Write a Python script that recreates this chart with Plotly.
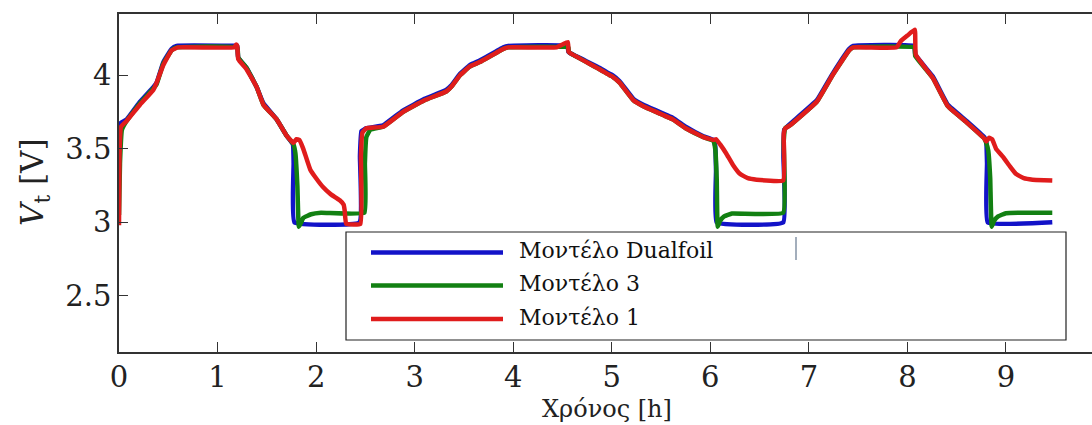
import plotly.graph_objects as go

# ---------------- data ----------------
series_names = ["Μοντέλο Dualfoil", "Μοντέλο 3", "Μοντέλο 1"]
series_colors = ["#1212c8", "#128012", "#e01c1c"]

t_dualfoil = [0.0, 0.005, 0.078, 0.213, 0.348, 0.382, 0.45, 0.534, 0.585, 1.19, 1.20, 1.21, 1.295,
              1.397, 1.465, 1.60, 1.70, 1.765, 1.772, 1.78, 2.44,
              2.445, 2.46, 2.51, 2.68, 2.88, 3.10, 3.32, 3.37, 3.46, 3.56, 3.66, 3.90, 3.95, 4.55,
              4.56, 4.58, 4.88, 4.98, 5.01, 5.08, 5.22, 5.32, 5.62, 5.75, 5.93, 6.03, 6.05, 6.058,
              6.065, 6.74,
              6.742, 6.75, 6.81, 7.08, 7.24, 7.41, 7.45, 8.07,
              8.08, 8.26, 8.41, 8.60, 8.78, 8.80, 8.808, 8.815, 9.47]
v_dualfoil = [3.64, 3.67, 3.70, 3.82, 3.92, 3.95, 4.09, 4.18, 4.20, 4.20, 4.20, 4.12, 4.05,
              3.92, 3.81, 3.70, 3.59, 3.53, 3.40, 3.00, 3.00,
              3.45, 3.62, 3.64, 3.66, 3.76, 3.84, 3.90, 3.93, 4.01, 4.07, 4.10, 4.19, 4.20, 4.20,
              4.16, 4.15, 4.05, 4.01, 4.00, 3.96, 3.84, 3.80, 3.71, 3.65, 3.585, 3.56, 3.52, 3.35,
              3.00, 3.00,
              3.45, 3.63, 3.67, 3.83, 4.01, 4.18, 4.20, 4.20,
              4.14, 3.99, 3.80, 3.69, 3.58, 3.55, 3.40, 3.00, 3.00]

t_model3 = [0.0, 0.01, 0.03, 0.078, 0.213, 0.348, 0.382, 0.45, 0.534, 0.585, 1.20, 1.21, 1.295,
            1.397, 1.465, 1.60, 1.70, 1.77, 1.79, 1.81, 1.825, 1.85, 1.87, 1.95, 2.05, 2.49,
            2.495, 2.51, 2.55, 2.68, 2.88, 3.10, 3.32, 3.37, 3.46, 3.56, 3.66, 3.90, 3.95, 4.56,
            4.565, 4.58, 4.88, 4.98, 5.01, 5.08, 5.22, 5.32, 5.62, 5.75, 5.93, 6.03, 6.05, 6.065,
            6.075, 6.10, 6.14, 6.22, 6.74,
            6.745, 6.76, 6.81, 7.08, 7.24, 7.41, 7.45, 8.07,
            8.08, 8.26, 8.41, 8.60, 8.78, 8.80, 8.82, 8.84, 8.855, 8.88, 8.92, 9.0, 9.47]
v_model3 = [3.05, 3.40, 3.63, 3.69, 3.81, 3.91, 3.94, 4.08, 4.17, 4.19, 4.19, 4.12, 4.05,
            3.92, 3.80, 3.70, 3.59, 3.53, 3.47, 3.25, 2.97, 3.00, 3.03, 3.055, 3.065, 3.065,
            3.40, 3.58, 3.63, 3.65, 3.75, 3.83, 3.89, 3.92, 4.00, 4.06, 4.09, 4.18, 4.19, 4.19,
            4.16, 4.15, 4.04, 4.00, 3.99, 3.95, 3.83, 3.79, 3.70, 3.64, 3.58, 3.555, 3.50, 3.30,
            2.97, 3.01, 3.04, 3.06, 3.065,
            3.55, 3.64, 3.66, 3.82, 4.00, 4.17, 4.19, 4.19,
            4.13, 3.98, 3.79, 3.68, 3.57, 3.54, 3.49, 3.30, 2.97, 3.01, 3.04, 3.062, 3.065]

t_model1 = [0.0, 0.005, 0.02, 0.078, 0.213, 0.348, 0.382, 0.45, 0.534, 0.60, 1.17, 1.19, 1.20,
            1.21, 1.295, 1.397, 1.465, 1.60, 1.70, 1.77, 1.80, 1.83, 1.87, 1.94, 2.00, 2.07, 2.15,
            2.24, 2.28, 2.29, 2.305, 2.45,
            2.455, 2.47, 2.51, 2.68, 2.88, 3.10, 3.32, 3.37, 3.46, 3.56, 3.66, 3.90, 3.95, 4.44,
            4.50, 4.555, 4.562, 4.58, 4.88, 4.98, 5.01, 5.08, 5.22, 5.32, 5.62, 5.75, 5.93, 6.03,
            6.06, 6.10, 6.16, 6.23, 6.30, 6.38, 6.47, 6.74,
            6.745, 6.76, 6.81, 7.08, 7.24, 7.41, 7.45, 7.89, 7.93, 8.00, 8.075, 8.085,
            8.26, 8.41, 8.60, 8.78, 8.80, 8.83, 8.86, 8.90, 8.97, 9.04, 9.10, 9.18, 9.27, 9.47]
v_model1 = [2.98, 3.45, 3.65, 3.69, 3.80, 3.90, 3.95, 4.07, 4.17, 4.19, 4.19, 4.21, 4.20,
            4.11, 4.04, 3.92, 3.80, 3.70, 3.59, 3.54, 3.565, 3.56, 3.50, 3.36, 3.30, 3.24, 3.19,
            3.15, 3.12, 3.08, 2.99, 2.99,
            3.45, 3.61, 3.64, 3.65, 3.75, 3.83, 3.89, 3.92, 4.00, 4.06, 4.09, 4.18, 4.19, 4.19,
            4.21, 4.226, 4.16, 4.15, 4.04, 4.00, 3.99, 3.95, 3.83, 3.79, 3.70, 3.64, 3.58, 3.56,
            3.565, 3.53, 3.47, 3.39, 3.33, 3.30, 3.29, 3.285,
            3.60, 3.64, 3.66, 3.82, 4.00, 4.17, 4.19, 4.19, 4.23, 4.27, 4.31, 4.14,
            3.98, 3.79, 3.68, 3.57, 3.55, 3.575, 3.565, 3.50, 3.445, 3.38, 3.33, 3.30, 3.29, 3.285]

x_ticks = [0, 1, 2, 3, 4, 5, 6, 7, 8, 9]
y_ticks = [2.5, 3, 3.5, 4]
y_tick_text = ["2.5", "3", "3.5", "4"]
x_title = "Χρόνος [h]"
y_title = "<i>V</i><sub>t</sub> [V]"

# ---------------- figure ----------------
W, H = 1092, 425
L, R, T, B = 119, 0, 14, 73
PW, PH = W - L - R, H - T - B


def px(x):
    return (x - L) / PW


def py(y):
    return (H - B - y) / PH


fig = go.Figure()
for t, v, name, col in [(t_dualfoil, v_dualfoil, series_names[0], series_colors[0]),
                        (t_model3, v_model3, series_names[1], series_colors[1]),
                        (t_model1, v_model1, series_names[2], series_colors[2])]:
    fig.add_trace(go.Scatter(x=t, y=v, mode="lines", name=name,
                             line=dict(color=col, width=4.5, shape="spline", smoothing=0.3),
                             showlegend=False))

serif = "DejaVu Serif"

fig.update_layout(
    width=W, height=H,
    margin=dict(l=L, r=R, t=T, b=B, pad=0),
    paper_bgcolor="white", plot_bgcolor="white",
    showlegend=False,
    font=dict(family=serif, color="#222"),
)
fig.update_xaxes(range=[0, 9.873], tickvals=x_ticks, ticks="inside", ticklen=10, tickwidth=1.2,
                 tickcolor="#333", showline=True, linecolor="#333", linewidth=1.5,
                 mirror="ticks", showgrid=False, zeroline=False, ticklabelstandoff=-2,
                 tickfont=dict(family=serif, size=29, color="#222"))
fig.update_yaxes(range=[2.118, 4.417], tickvals=y_ticks, ticktext=y_tick_text, ticks="inside",
                 ticklen=9, tickwidth=1.2, tickcolor="#333", showline=True, linecolor="#333",
                 linewidth=1.5, mirror=False, showgrid=False, zeroline=False,
                 tickfont=dict(family=serif, size=29, color="#222"))

# axis titles
fig.add_annotation(x=px(607), y=py(409), xref="paper", yref="paper", text=x_title,
                   showarrow=False, font=dict(family=serif, size=24, color="#222"),
                   xanchor="center", yanchor="middle")
fig.add_annotation(x=px(34), y=py(182), xref="paper", yref="paper", text=y_title,
                   showarrow=False, textangle=-90, font=dict(family=serif, size=31, color="#222"),
                   xanchor="center", yanchor="middle")

# legend box (drawn manually to match the long legend lines)
fig.add_shape(type="rect", xref="paper", yref="paper", x0=px(346), x1=px(1066),
              y0=py(340), y1=py(232), line=dict(color="#222", width=1.2),
              fillcolor="white", layer="above")
row_y = [252.5, 285.5, 319]
text_y = [251, 283, 317]
for i in range(3):
    fig.add_shape(type="line", xref="paper", yref="paper", x0=px(371), x1=px(503),
                  y0=py(row_y[i]), y1=py(row_y[i]),
                  line=dict(color=series_colors[i], width=4.5), layer="above")
    fig.add_annotation(x=px(517), y=py(text_y[i]), xref="paper", yref="paper",
                       text=series_names[i], showarrow=False, xanchor="left", yanchor="middle",
                       font=dict(family=serif, size=22, color="#111"))
# small stray mark inside the legend
fig.add_shape(type="line", xref="paper", yref="paper", x0=px(796), x1=px(796),
              y0=py(260), y1=py(237), line=dict(color="#8593a6", width=1.5), layer="above")

fig.write_html("out.html", config={"displayModeBar": False},
               post_script="document.body.style.margin='0';document.body.style.overflow='hidden';")
